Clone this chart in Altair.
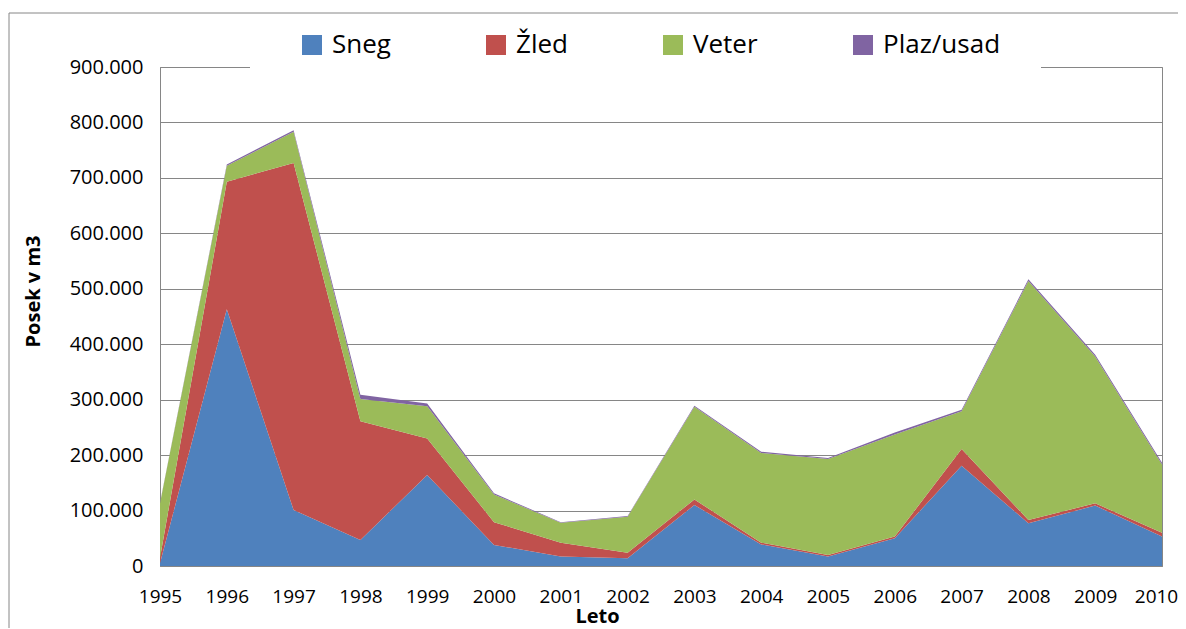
import altair as alt
import pandas as pd

years = list(range(1995, 2011))
series = ["Sneg", "Žled", "Veter", "Plaz/usad"]
colors = ["#4F81BD", "#C0504D", "#9BBB59", "#8064A2"]

sneg = [5000, 463000, 101000, 47000, 164000, 38000, 17000, 14000, 110000, 39000, 17000, 50000, 181000, 77000, 109000, 53000]
zled = [10000, 230000, 626000, 214000, 66000, 41000, 25000, 10000, 10000, 3000, 3000, 3000, 30000, 6000, 4000, 7000]
veter = [98000, 29000, 56000, 40000, 58000, 50000, 36000, 65000, 167000, 162000, 173000, 184000, 68000, 431000, 265000, 123000]
plaz = [1000, 2000, 3000, 8000, 5000, 2000, 1000, 1000, 2000, 2000, 2000, 4000, 3000, 3000, 3000, 3000]

y_ticks = list(range(0, 900001, 100000))

rows = []
for idx, (name, vals) in enumerate(zip(series, [sneg, zled, veter, plaz])):
    for yr, v in zip(years, vals):
        rows.append({"Leto": yr, "Vrsta": name, "Posek": v, "idx": idx})
df = pd.DataFrame(rows)

FONT = "Open Sans"
GRAY = "#868686"

area = alt.Chart(df).mark_area(opacity=1).encode(
    x=alt.X("Leto:Q",
            scale=alt.Scale(domain=[1995, 2010], nice=False, zero=False),
            axis=alt.Axis(values=years, format="d", title="Leto",
                          labelFontSize=19, labelPadding=21, labelFlush=False,
                          labelOffset=alt.condition("datum.value == 2010", alt.value(-6), alt.value(0)),
                          ticks=False, tickSize=0, grid=False,
                          domainColor=GRAY, domainWidth=1,
                          titleFontSize=20, titleFontWeight="bold",
                          titleX=437, titleY=50, titleBaseline="middle",
                          titleAlign="center")),
    y=alt.Y("Posek:Q", stack="zero",
            scale=alt.Scale(domain=[0, 900000], nice=False),
            axis=alt.Axis(values=y_ticks,
                          labelExpr="replace(format(datum.value, ',d'), ',', '.')",
                          labelFontSize=20, labelPadding=17,
                          ticks=False, tickSize=0,
                          grid=True, gridColor=GRAY, gridWidth=1,
                          domainColor=GRAY, domainWidth=1,
                          title="Posek v m3", titleFontSize=20,
                          titleFontWeight="bold", titleAngle=270,
                          titleX=-127, titleY=224, titleAlign="center",
                          titleBaseline="middle")),
    color=alt.Color("Vrsta:N",
                    scale=alt.Scale(domain=series, range=colors),
                    legend=alt.Legend(
                        orient="none", legendX=90, legendY=-47,
                        direction="horizontal", columns=4,
                        title="V", titleOrient="right", titlePadding=16,
                        titleFontSize=20, titleOpacity=0,
                        symbolType="square", symbolSize=400, symbolOffset=37,
                        symbolStrokeWidth=0, symbolOpacity=1,
                        labelFontSize=26, labelFont=FONT, labelColor="black",
                        labelOffset=7, labelLimit=400, columnPadding=55,
                        fillColor="white", padding=12)),
    order=alt.Order("idx:Q", sort="ascending"),
)

border = alt.Chart(pd.DataFrame({"a": [0]})).mark_rect(
    fill=None, fillOpacity=0, stroke=GRAY, strokeWidth=1
).encode(
    x=alt.value(-151), x2=alt.value(1040),
    y=alt.value(-54), y2=alt.value(620),
)

chart = alt.layer(border, area).properties(
    width=1002, height=499,
    autosize=alt.AutoSizeParams(type="none"),
    padding={"left": 152, "top": 59, "right": 16, "bottom": 62},
).configure(
    font=FONT,
).configure_view(
    stroke=GRAY, strokeWidth=1,
).configure_axis(
    labelFont=FONT, titleFont=FONT, labelColor="black", titleColor="black",
)

chart.save("out.html", embed_options={"renderer": "svg", "actions": False})
